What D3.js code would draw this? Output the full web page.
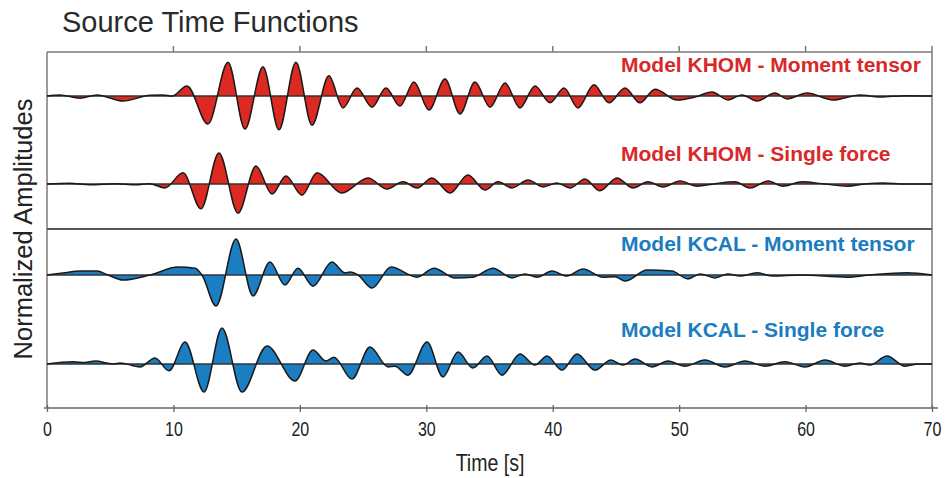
<!DOCTYPE html>
<html><head><meta charset="utf-8">
<script src="https://cdn.jsdelivr.net/npm/d3@7"></script>
<style>
html,body{margin:0;padding:0;background:#fff;}
svg{display:block;}
</style></head>
<body>
<script>
// ---- DATA (time in s, normalized amplitude) ----
const xTicks = [0, 10, 20, 30, 40, 50, 60, 70];
const traceNames = ["Model KHOM - Moment tensor", "Model KHOM - Single force", "Model KCAL - Moment tensor", "Model KCAL - Single force"];

const khomMT_t = [0,1.03,2.61,3.95,6.01,8.15,9.17,9.9,11.07,12.73,14.32,15.66,17.08,18.35,19.69,20.96,22.30,23.41,24.52,25.71,26.81,27.92,29.03,30.21,31.48,32.67,33.85,35.04,36.23,37.41,38.60,39.79,40.89,42.00,43.26,44.45,45.72,46.90,48.09,49.83,51.25,52.60,53.86,54.97,56.16,57.58,58.53,60.11,62.17,64.3,65.9,67.9,70];
const khomMT_a = [0,0.03,-0.06,0.03,-0.14,0.02,0.03,0,0.28,-0.78,0.94,-0.92,0.81,-0.94,0.94,-0.81,0.56,-0.33,0.22,-0.31,0.22,-0.28,0.39,-0.39,0.47,-0.50,0.39,-0.31,0.36,-0.33,0.28,-0.19,0.22,-0.33,0.31,-0.19,0.22,-0.19,0.19,-0.11,-0.03,0.11,-0.11,0.03,-0.14,0.08,-0.08,0.08,-0.11,0.03,-0.03,0.01,0];

const khomSF_t = [0,1.8,3.4,5.4,7.0,8.1,9.33,10.76,12.18,13.60,15.11,16.53,17.80,18.90,20.17,21.36,23.33,25.39,26.89,28.16,29.27,30.45,31.88,33.30,34.64,35.67,36.78,38.05,39.23,40.34,41.37,42.55,43.74,45.08,46.35,47.54,48.72,50.07,51.41,52.84,54.42,55.60,57.03,58.21,59.72,61.5,63.28,64.7,66.12,67.9,70];
const khomSF_a = [0,0.02,-0.02,0.01,-0.02,0.01,-0.11,0.31,-0.69,0.86,-0.81,0.50,-0.28,0.22,-0.31,0.31,-0.25,0.17,-0.14,0.06,-0.11,0.17,-0.25,0.25,-0.17,0.06,-0.11,0.11,-0.08,0.03,-0.11,0.14,-0.19,0.17,-0.11,0.06,-0.08,0.08,-0.06,0.01,0.06,-0.11,0.08,-0.06,0.06,0,-0.06,0,0.03,0,0];

const kcalMT_t = [0,1.42,2.61,3.95,4.82,6.01,8.15,10.36,11.71,12.26,13.37,14.95,16.29,17.64,18.82,19.85,21.04,22.54,23.57,23.97,24.60,25.71,27.21,29.27,30.61,32.27,33.69,35.28,36.78,37.81,38.76,39.94,41.13,42.40,43.99,44.93,45.72,47.46,49.43,50.70,51.65,52.84,53.86,54.81,56.16,57.42,59.56,63.28,65.1,68.02,70];
const kcalMT_a = [0,0.06,0.11,0.11,0,-0.14,0,0.22,0.19,0,-0.86,1.0,-0.58,0.36,-0.28,0.19,-0.31,0.36,0.06,0.08,0,-0.36,0.22,-0.06,0.19,-0.08,-0.06,0.19,-0.08,0.03,-0.06,0.11,-0.03,0.17,-0.06,-0.05,-0.17,0.14,0.11,-0.11,0.03,-0.08,0.03,-0.03,0.06,-0.03,0,-0.06,0,0.06,0];

const kcalSF_t = [0,2.06,3.0,3.80,5.22,5.77,7.36,8.54,9.65,10.92,12.42,13.84,15.42,17.40,19.62,21.04,22.07,22.70,24.12,25.55,26.97,27.52,28.55,30.06,31.32,32.51,33.69,34.80,35.99,37.41,38.60,39.55,40.73,41.92,43.34,44.61,45.56,46.51,47.85,49.12,50.46,52.04,53.63,55.21,56.79,58.37,59.95,61.54,63.12,64.30,65.09,66.44,67.87,68.9,70];
const kcalSF_a = [0,0.06,0.04,0.08,0,0.03,-0.08,0.17,-0.19,0.61,-0.78,1.0,-0.78,0.50,-0.47,0.39,0.08,0.19,-0.42,0.47,-0.08,-0.06,-0.31,0.61,-0.36,0.33,-0.11,0.22,-0.31,0.28,-0.03,0.22,-0.17,0.28,-0.17,0.11,-0.03,0.14,-0.08,0.08,-0.06,0.11,-0.08,0.08,-0.06,0.06,-0.08,0.11,-0.06,0.03,-0.03,0.22,-0.06,0,0];

// ---- LAYOUT ----
const W = 945, H = 478;
const plotL = 47, plotR = 932, plotT = 52, plotB = 408, sepY = 229;
const baselines = [96, 184, 275, 364];
const labelY = [72, 161, 251, 337];
const labelX = 621;
const ampPx = 36;
const red = "#dc2a22", blue = "#1b7dc2";
const redText = "#d8292a", blueText = "#1a7cc1";
const fills = [red, red, blue, blue];
const textColors = [redText, redText, blueText, blueText];
const sans = "'Liberation Sans',Arial,Helvetica,sans-serif";

const svg = d3.select("body").append("svg").attr("width", W).attr("height", H);

const x = d3.scaleLinear().domain([0, 70]).range([plotL, plotR]);
const y = d3.scaleLinear().domain([-1, 1]).range([ampPx, -ampPx]);

const traces = [
  [khomMT_t, khomMT_a], [khomSF_t, khomSF_a], [kcalMT_t, kcalMT_a], [kcalSF_t, kcalSF_a]
].map(([t, a]) => t.map((tt, i) => ({t: tt, a: a[i]})));

const area = d3.area().x(d => x(d.t)).y0(y(0)).y1(d => y(d.a)).curve(d3.curveMonotoneX);
const line = d3.line().x(d => x(d.t)).y(d => y(d.a)).curve(d3.curveMonotoneX);

// frame
const frameColor = "#7a7a7a";
svg.append("line").attr("x1", plotL).attr("x2", plotR).attr("y1", plotT).attr("y2", plotT).attr("stroke", frameColor).attr("stroke-width", 1.5);
svg.append("line").attr("x1", plotL).attr("x2", plotL).attr("y1", plotT).attr("y2", plotB).attr("stroke", frameColor).attr("stroke-width", 1.5);
svg.append("line").attr("x1", plotR).attr("x2", plotR).attr("y1", plotT - 6).attr("y2", plotB).attr("stroke", frameColor).attr("stroke-width", 1.5);
svg.append("line").attr("x1", plotL).attr("x2", plotR).attr("y1", sepY).attr("y2", sepY).attr("stroke", "#555").attr("stroke-width", 2.2);

// top ticks
svg.append("g").selectAll("line").data(xTicks.slice(1, -1)).join("line")
  .attr("x1", d => x(d)).attr("x2", d => x(d)).attr("y1", plotT).attr("y2", plotT - 6)
  .attr("stroke", frameColor).attr("stroke-width", 1.5);

// bottom axis
const xAxis = d3.axisBottom(x).tickValues(xTicks).tickSize(4).tickPadding(10).tickFormat(d3.format("d"));
const gx = svg.append("g").attr("transform", `translate(0,${plotB})`).call(xAxis);
gx.select(".domain").attr("d", `M${plotL - 3},0H${plotR + 6}`).attr("stroke", "#666").attr("stroke-width", 1.5);
gx.selectAll(".tick line").attr("y1", -3).attr("y2", 4).attr("stroke", "#666").attr("stroke-width", 1.3);
gx.selectAll(".tick text").attr("font-family", sans).attr("font-size", 20).attr("fill", "#222")
  .attr("transform", "scale(0.8,1)");

// traces
traces.forEach((data, i) => {
  const g = svg.append("g").attr("transform", `translate(0,${baselines[i]})`);
  g.append("path").datum(data).attr("d", area).attr("fill", fills[i]);
  g.append("line").attr("x1", plotL).attr("x2", plotR).attr("y1", 0).attr("y2", 0).attr("stroke", "#333").attr("stroke-width", 1.4);
  g.append("path").datum(data).attr("d", line).attr("fill", "none").attr("stroke", "#1a1a1a").attr("stroke-width", 1.5);
  svg.append("text").attr("x", labelX).attr("y", labelY[i]).attr("text-anchor", "start")
    .attr("font-family", sans).attr("font-weight", "bold").attr("font-size", 21)
    .attr("fill", textColors[i]).text(traceNames[i]);
});

// titles
svg.append("text").attr("x", 62).attr("y", 32).attr("font-family", sans).attr("font-size", 29)
  .attr("fill", "#2a2a2a").text("Source Time Functions");
svg.append("text").attr("transform", `translate(32,229) rotate(-90)`).attr("text-anchor", "middle")
  .attr("font-family", sans).attr("font-size", 25.5).attr("fill", "#222").text("Normalized Amplitudes");
svg.append("text").attr("transform", "translate(490,471) scale(0.85,1)").attr("text-anchor", "middle")
  .attr("font-family", sans).attr("font-size", 23).attr("fill", "#222").text("Time [s]");
</script>
</body></html>
